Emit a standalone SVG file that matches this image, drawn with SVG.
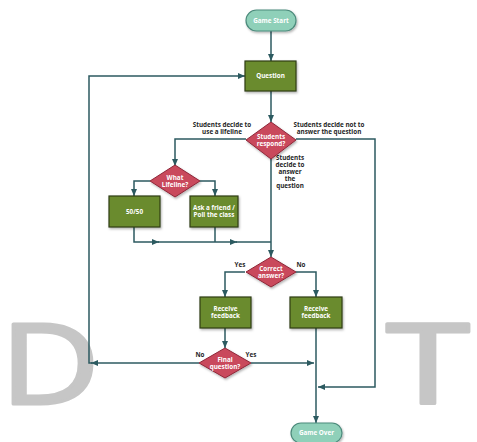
<svg xmlns="http://www.w3.org/2000/svg" width="477" height="442" viewBox="0 0 477 442">
<defs>
<marker id="ah" markerUnits="userSpaceOnUse" markerWidth="8" markerHeight="8" refX="7" refY="3" orient="auto"><path d="M0,0 L7,3 L0,6 z" fill="#2c5a60"/></marker>
<filter id="sh" x="-20%" y="-20%" width="150%" height="150%"><feDropShadow dx="1" dy="1.5" stdDeviation="1" flood-color="#000" flood-opacity="0.3"/></filter>
</defs>
<style>
.wm{font-family:"Open Sans","DejaVu Sans",sans-serif;font-size:112px;fill:#c6c6c6;stroke:#c6c6c6;stroke-width:3;stroke-linejoin:round}
.c{fill:none;stroke:#2c5a60;stroke-width:1.5}
.box{fill:#6a8b2e;stroke:#2f3d17;stroke-width:1.2;filter:url(#sh)}
.dia{fill:#c94a5c;stroke:#8e2638;stroke-width:1;filter:url(#sh)}
.pill{fill:#8fd0b9;stroke:#4c8b7c;stroke-width:1.2;filter:url(#sh)}
.t{font-family:"Open Sans","Liberation Sans",sans-serif;font-weight:bold;font-size:6.3px;fill:#fff;text-anchor:middle}
.l{font-family:"Open Sans","Liberation Sans",sans-serif;font-weight:bold;font-size:6.3px;fill:#1e2626;text-anchor:middle}
</style>
<rect width="477" height="442" fill="#fff"/>
<g id="watermark">
<text class="wm" transform="translate(0,404) scale(1.23,1)">D</text>
<text class="wm" transform="translate(386,404) scale(1.36,1)">T</text>
</g>
<g id="connectors">
<path class="c" d="M271,31 V61" marker-end="url(#ah)"/>
<path class="c" d="M271,91 V122" marker-end="url(#ah)"/>
<path class="c" d="M246,139 H175 V166" marker-end="url(#ah)"/>
<path class="c" d="M296,139 H375 V387 H318" marker-end="url(#ah)"/>
<path class="c" d="M271,159 V257" marker-end="url(#ah)"/>
<path class="c" d="M150,181 H134 V196" marker-end="url(#ah)"/>
<path class="c" d="M200,181 H215 V196" marker-end="url(#ah)"/>
<path class="c" d="M134,227 V242 H159" marker-end="url(#ah)"/>
<path class="c" d="M158,242 H237" marker-end="url(#ah)"/>
<path class="c" d="M236,242 H271"/>
<path class="c" d="M215,227 V242"/>
<path class="c" d="M245,272 H225 V297" marker-end="url(#ah)"/>
<path class="c" d="M296,272 H316 V297" marker-end="url(#ah)"/>
<path class="c" d="M225,328 V348" marker-end="url(#ah)"/>
<path class="c" d="M199,363 H91" marker-end="url(#ah)"/>
<path class="c" d="M92,363 H89 V76 H245" marker-end="url(#ah)"/>
<path class="c" d="M251,363 H314" marker-end="url(#ah)"/>
<path class="c" d="M316,328 V423" marker-end="url(#ah)"/>
<text class="l" y="127"><tspan x="222">Students decide to</tspan><tspan x="222" dy="7">use a lifeline</tspan></text>
<text class="l" y="127"><tspan x="329">Students decide not to</tspan><tspan x="329" dy="7">answer the question</tspan></text>
<text class="l" y="160"><tspan x="290">Students</tspan><tspan x="290" dy="7">decide to</tspan><tspan x="290" dy="7">answer</tspan><tspan x="290" dy="7">the</tspan><tspan x="290" dy="7">question</tspan></text>
<text class="l" x="240" y="267">Yes</text>
<text class="l" x="301" y="267">No</text>
<text class="l" x="200" y="357">No</text>
<text class="l" x="251" y="357">Yes</text>
</g>
<g id="game-start"><rect class="pill" x="246" y="10" width="50" height="21" rx="10.5"/><text class="t" x="271" y="22.8">Game Start</text></g>
<g id="question"><rect class="box" x="245" y="61" width="51" height="30"/><text class="t" x="270.5" y="78.3">Question</text></g>
<g id="students-respond"><path class="dia" d="M271,122 L296,140 L271,159 L246,140 z"/><text class="t" y="139"><tspan x="271">Students</tspan><tspan x="271" dy="7">respond?</tspan></text></g>
<g id="what-lifeline"><path class="dia" d="M175,165 L200,181 L175,197 L150,181 z"/><text class="t" y="180"><tspan x="175">What</tspan><tspan x="175" dy="7">Lifeline?</tspan></text></g>
<g id="fifty-fifty"><rect class="box" x="109" y="196" width="51" height="31"/><text class="t" x="134.5" y="214">50/50</text></g>
<g id="ask-friend"><rect class="box" x="190" y="196" width="48" height="31"/><text class="t" y="209.5"><tspan x="214">Ask a friend /</tspan><tspan x="214" dy="7.5">Poll the class</tspan></text></g>
<g id="correct-answer"><path class="dia" d="M271,257 L296,272 L271,287 L246,272 z"/><text class="t" y="271"><tspan x="271">Correct</tspan><tspan x="271" dy="7">answer?</tspan></text></g>
<g id="feedback-yes"><rect class="box" x="200" y="297" width="51" height="31"/><text class="t" y="310.5"><tspan x="225.5">Receive</tspan><tspan x="225.5" dy="7.5">feedback</tspan></text></g>
<g id="feedback-no"><rect class="box" x="290" y="297" width="52" height="31"/><text class="t" y="310.5"><tspan x="316">Receive</tspan><tspan x="316" dy="7.5">feedback</tspan></text></g>
<g id="final-question"><path class="dia" d="M225,348 L251,363 L225,378 L199,363 z"/><text class="t" y="362"><tspan x="225">Final</tspan><tspan x="225" dy="7">question?</tspan></text></g>
<g id="game-over"><rect class="pill" x="291" y="423" width="51" height="20" rx="10"/><text class="t" x="316.5" y="435.3">Game Over</text></g>
</svg>
